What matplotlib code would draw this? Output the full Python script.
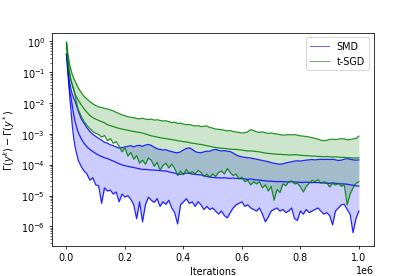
import numpy as np
import matplotlib
matplotlib.use("Agg")
import matplotlib.pyplot as plt

# iterations, in thousands
iters_k = [0, 4, 8, 12, 16, 20, 25, 30, 40, 50, 60, 70, 80, 90, 100,
           110, 120, 130, 140, 150, 160, 170, 180, 190, 200,
           210, 220, 230, 240, 250, 260, 270, 280, 290, 300,
           310, 320, 330, 340, 350, 360, 370, 380, 390, 400,
           410, 420, 430, 440, 450, 460, 470, 480, 490, 500,
           510, 520, 530, 540, 550, 560, 570, 580, 590, 600,
           610, 620, 630, 640, 650, 660, 670, 680, 690, 700,
           710, 720, 730, 740, 750, 760, 770, 780, 790, 800,
           810, 820, 830, 840, 850, 860, 870, 880, 890, 900,
           910, 920, 930, 940, 950, 960, 970, 980, 990, 1000]

# log10 of the optimality gap
smd_upper_exp = [-0.40, -0.85, -1.15, -1.40, -1.58, -1.72, -1.85, -1.95, -2.25, -2.50, -2.65, -2.80, -2.92, -3.01, -3.08,
                 -3.14, -3.20, -3.27, -3.30, -3.35, -3.38, -3.42, -3.46, -3.44, -3.42,
                 -3.40, -3.38, -3.42, -3.38, -3.37, -3.40, -3.36, -3.34, -3.37, -3.43,
                 -3.48, -3.50, -3.52, -3.51, -3.55, -3.57, -3.60, -3.61, -3.58, -3.52,
                 -3.47, -3.45, -3.50, -3.57, -3.60, -3.61, -3.58, -3.56, -3.56, -3.52,
                 -3.50, -3.53, -3.55, -3.54, -3.56, -3.57, -3.62, -3.68, -3.72, -3.74,
                 -3.76, -3.77, -3.78, -3.80, -3.82, -3.84, -3.86, -3.88, -3.90, -3.93,
                 -3.95, -3.97, -3.98, -3.97, -3.94, -3.92, -3.90, -3.88, -3.87, -3.88,
                 -3.86, -3.85, -3.84, -3.83, -3.84, -3.83, -3.82, -3.83, -3.82, -3.83,
                 -3.82, -3.84, -3.86, -3.85, -3.82, -3.80, -3.82, -3.84, -3.85, -3.84]
smd_mid_exp = [-0.42, -0.95, -1.35, -1.65, -1.85, -2.10, -2.40, -2.62, -2.95, -3.15, -3.30, -3.42, -3.50, -3.57, -3.63,
               -3.69, -3.73, -3.77, -3.80, -3.84, -3.88, -3.92, -3.97, -4.00, -4.03,
               -4.05, -4.07, -4.09, -4.11, -4.13, -4.15, -4.15, -4.16, -4.17, -4.17,
               -4.18, -4.19, -4.20, -4.20, -4.23, -4.25, -4.27, -4.30, -4.31, -4.29,
               -4.27, -4.28, -4.30, -4.31, -4.32, -4.33, -4.35, -4.38, -4.40, -4.41,
               -4.42, -4.42, -4.43, -4.42, -4.43, -4.44, -4.43, -4.44, -4.45, -4.45,
               -4.46, -4.47, -4.46, -4.48, -4.49, -4.50, -4.51, -4.52, -4.53, -4.53,
               -4.54, -4.55, -4.54, -4.55, -4.55, -4.56, -4.55, -4.56, -4.56, -4.57,
               -4.57, -4.56, -4.57, -4.58, -4.57, -4.58, -4.58, -4.59, -4.60, -4.60,
               -4.59, -4.60, -4.61, -4.62, -4.62, -4.63, -4.65, -4.66, -4.68, -4.69]
smd_lower_exp = [-0.42, -0.70, -1.40, -1.90, -2.30, -2.75, -3.15, -3.45, -3.85, -4.05, -4.20, -4.30, -4.50, -4.42, -4.65,
                 -4.68, -5.25, -4.75, -4.85, -4.82, -4.95, -4.88, -5.20, -4.95, -5.05,
                 -5.00, -5.12, -5.30, -5.75, -5.20, -5.85, -5.30, -5.05, -5.15, -5.22,
                 -5.10, -5.35, -5.20, -5.28, -5.15, -5.40, -5.55, -5.92, -5.30, -5.20,
                 -5.10, -5.25, -5.20, -5.35, -5.20, -5.30, -5.45, -5.35, -5.45, -5.40,
                 -5.50, -5.60, -5.50, -5.65, -5.72, -5.55, -5.40, -5.30, -5.25, -5.20,
                 -5.35, -5.30, -5.40, -5.45, -5.50, -5.40, -5.60, -5.85, -5.70, -5.50,
                 -5.45, -5.40, -5.50, -5.45, -5.55, -5.50, -5.40, -5.75, -5.80, -5.50,
                 -5.60, -5.45, -5.55, -5.50, -5.45, -5.40, -5.50, -5.60, -5.55, -5.65,
                 -5.95, -5.50, -5.40, -5.30, -5.28, -5.45, -5.60, -6.20, -5.75, -5.50]

tsgd_upper_exp = [-0.02, -0.35, -0.60, -0.80, -0.95, -1.08, -1.20, -1.30, -1.50, -1.65, -1.78, -1.87, -1.95, -2.02, -2.08,
                  -2.12, -2.14, -2.17, -2.19, -2.22, -2.25, -2.30, -2.34, -2.38, -2.41,
                  -2.44, -2.46, -2.47, -2.50, -2.51, -2.49, -2.52, -2.53, -2.52, -2.55,
                  -2.54, -2.56, -2.58, -2.57, -2.60, -2.63, -2.62, -2.66, -2.65, -2.68,
                  -2.70, -2.69, -2.72, -2.74, -2.73, -2.76, -2.75, -2.74, -2.79, -2.81,
                  -2.84, -2.85, -2.86, -2.88, -2.90, -2.89, -2.92, -2.94, -2.95, -2.97,
                  -2.96, -2.93, -2.86, -2.89, -2.93, -2.95, -2.93, -2.96, -2.98, -2.97,
                  -2.99, -3.00, -3.02, -3.04, -3.03, -3.02, -3.03, -3.02, -3.04, -3.06,
                  -3.07, -3.08, -3.10, -3.12, -3.14, -3.17, -3.20, -3.22, -3.21, -3.18,
                  -3.17, -3.18, -3.17, -3.15, -3.16, -3.19, -3.18, -3.16, -3.15, -3.07]
tsgd_mid_exp = [-0.05, -0.50, -0.85, -1.10, -1.30, -1.45, -1.60, -1.72, -1.90, -2.05, -2.18, -2.30, -2.40, -2.47, -2.52,
                -2.56, -2.60, -2.64, -2.70, -2.73, -2.76, -2.79, -2.82, -2.84, -2.86,
                -2.88, -2.90, -2.92, -2.94, -2.95, -2.97, -3.00, -3.03, -3.06, -3.08,
                -3.10, -3.12, -3.14, -3.15, -3.17, -3.18, -3.20, -3.22, -3.23, -3.25,
                -3.26, -3.28, -3.30, -3.31, -3.33, -3.34, -3.36, -3.38, -3.40, -3.42,
                -3.44, -3.45, -3.46, -3.47, -3.48, -3.49, -3.50, -3.50, -3.51, -3.52,
                -3.54, -3.55, -3.55, -3.56, -3.57, -3.58, -3.60, -3.62, -3.63, -3.64,
                -3.65, -3.66, -3.66, -3.67, -3.67, -3.68, -3.68, -3.67, -3.68, -3.69,
                -3.70, -3.70, -3.71, -3.72, -3.72, -3.73, -3.73, -3.74, -3.73, -3.74,
                -3.75, -3.74, -3.75, -3.76, -3.76, -3.77, -3.77, -3.78, -3.78, -3.77]
tsgd_lower_exp = [-0.05, -0.60, -0.95, -1.15, -1.28, -1.40, -1.55, -1.80, -2.20, -2.42, -2.60, -2.72, -2.83, -2.92, -2.98,
                  -3.02, -3.10, -3.05, -3.22, -3.15, -3.30, -3.25, -3.40, -3.58, -3.45,
                  -3.72, -3.60, -3.82, -3.70, -3.95, -3.85, -3.98, -3.78, -3.85, -4.05,
                  -3.92, -4.18, -4.02, -3.95, -4.10, -3.98, -4.12, -4.35, -4.20, -4.32,
                  -4.15, -4.28, -4.22, -4.30, -4.18, -4.25, -4.38, -4.30, -4.40, -4.30,
                  -4.38, -4.25, -4.20, -4.30, -4.12, -4.25, -4.35, -4.30, -4.45, -4.40,
                  -4.55, -4.50, -4.65, -4.55, -4.62, -4.55, -4.75, -4.65, -4.85, -4.70,
                  -5.15, -4.80, -4.90, -4.62, -4.68, -4.55, -4.52, -4.62, -4.60, -4.72,
                  -4.88, -4.70, -4.60, -4.50, -4.55, -4.48, -4.60, -4.55, -4.58, -4.72,
                  -4.60, -4.66, -4.60, -4.70, -4.65, -5.30, -4.95, -4.75, -4.60, -4.55]

iters = np.array(iters_k) * 1000.0

fig, ax = plt.subplots(figsize=(6, 4), dpi=415 / 6)

series = [
    ("SMD", "blue", smd_upper_exp, smd_mid_exp, smd_lower_exp),
    ("t-SGD", "green", tsgd_upper_exp, tsgd_mid_exp, tsgd_lower_exp),
]
for name, col, up, mid, lo in series:
    up = 10.0 ** np.array(up)
    mid = 10.0 ** np.array(mid)
    lo = 10.0 ** np.array(lo)
    ax.plot(iters, mid, color=col, lw=1.3, alpha=0.85, label=name)
    ax.plot(iters, up, color=col, lw=1.3, alpha=0.85)
    ax.plot(iters, lo, color=col, lw=1.3, alpha=0.85)
    ax.fill_between(iters, lo, up, color=col, alpha=0.2, lw=0)

ax.set_yscale("log")
ax.set_ylim(2.4e-7, 1.95)
ax.set_xlabel("Iterations")
ax.set_ylabel(r"$\Gamma(y^k) - \Gamma(y^*)$")
leg = ax.legend(loc="upper right")
for h in leg.get_lines():
    h.set_alpha(0.6)
    h.set_linewidth(1.0)

plt.savefig("out.png")
